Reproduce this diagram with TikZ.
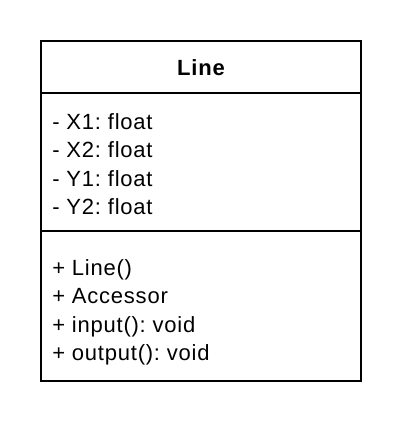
\documentclass[tikz,border=0pt]{standalone}
\usepackage{fontspec}
\setmainfont{Liberation Sans}[LetterSpace=3.5]
\usepackage{tikz}
\usetikzlibrary{positioning}
\frenchspacing

\begin{document}
\begin{tikzpicture}[
  x=0.75pt, y=-0.75pt,
  part/.style={draw=black, line width=1.5pt, minimum width=240pt,
               inner sep=0pt, outer sep=0pt, fill=white},
  member/.style={anchor=base west, inner sep=0pt,
                 font=\fontsize{16.5}{18}\selectfont},
  title/.style={anchor=base, inner sep=0pt,
                font=\fontsize{16.5}{18}\selectfont\bfseries},
]
  \useasboundingbox (0,0) rectangle (404,428);

  % class box
  \node[part, minimum height=39pt] (head) at (201,67) {};
  \node[part, minimum height=103.5pt, below=0pt of head] (fields) {};
  \node[part, minimum height=112.5pt, below=0pt of fields] (methods) {};

  \node[title] (name) at (201,75) {Line};

  % attributes
  \node[member] (x1) at (52,129) {- X1: float};
  \node[member] (x2) at (52,157) {- X2: float};
  \node[member] (y1) at (52,186) {- Y1: float};
  \node[member] (y2) at (52,214) {- Y2: float};

  % operations
  \node[member] (ctor) at (52,275) {+ Line()};
  \node[member] (acc) at (52,303) {+ Accessor};
  \node[member] (inp) at (52,332) {+ input(): void};
  \node[member] (outp) at (52,360) {+ output(): void};
\end{tikzpicture}
\end{document}
